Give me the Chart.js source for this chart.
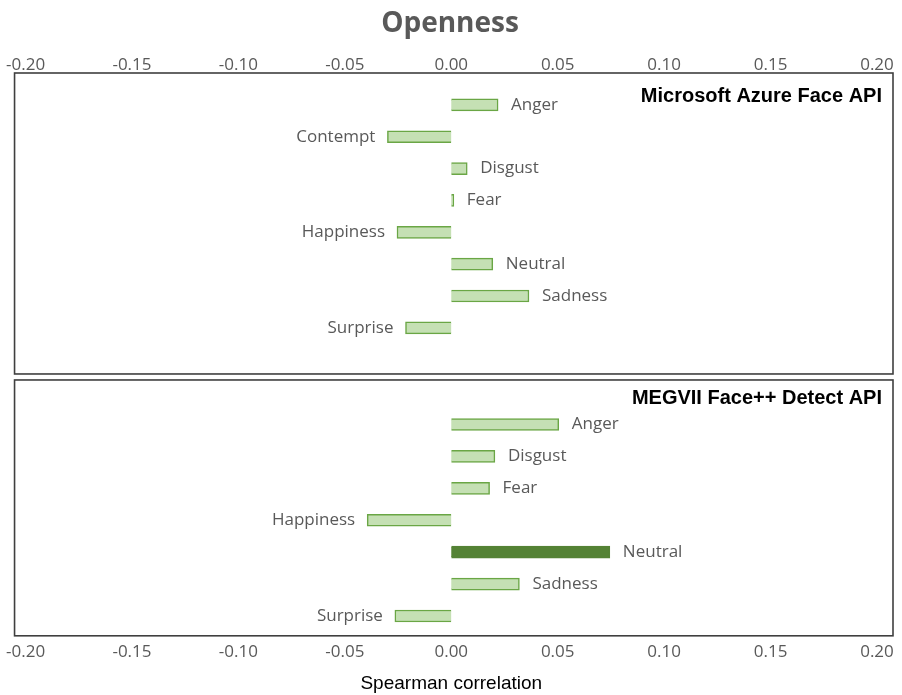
<!DOCTYPE html>
<html>
<head>
<meta charset="utf-8">
<title>Openness</title>
<script src="https://cdn.jsdelivr.net/npm/chart.js@4.4.1/dist/chart.umd.min.js"></script>
<style>
  html, body { margin: 0; padding: 0; background: #fff; }
  #chart { display: block; }
</style>
</head>
<body>
<canvas id="chart" width="902" height="695"></canvas>
<script>
// values
const azureEmotions = ['Anger', 'Contempt', 'Disgust', 'Fear', 'Happiness', 'Neutral', 'Sadness', 'Surprise'];
const azureValues = [0.022, -0.030, 0.0075, 0.0012, -0.0255, 0.0195, 0.0365, -0.0215];
const azureSignificant = [false, false, false, false, false, false, false, false];

const megviiEmotions = ['Anger', 'Disgust', 'Fear', 'Happiness', 'Neutral', 'Sadness', 'Surprise'];
const megviiValues = [0.0505, 0.0205, 0.018, -0.0395, 0.0745, 0.032, -0.0265];
const megviiSignificant = [false, false, false, false, true, false, false];

const panelTitles = ['Microsoft Azure Face API', 'MEGVII Face++ Detect API'];
const xTickValues = [-0.20, -0.15, -0.10, -0.05, 0.00, 0.05, 0.10, 0.15, 0.20];

const lightFill = '#C5E0B4';
const darkFill = '#548235';
const edgeColor = '#6AA645';
const textGray = '#595959';

function toPoints(values) {
  return values.map((v, i) => ({ x: v, y: i }));
}

function setTicks(scale) {
  scale.ticks = xTickValues.map(v => ({ value: v }));
}

const tickFont = { family: 'Open Sans', size: 17 };

// boxes, panel titles and the emotion labels next to each bar
const panelPlugin = {
  id: 'panels',
  beforeDatasetsDraw(chart) {
    const { ctx, chartArea } = chart;
    const axes = [chart.scales.yAzure, chart.scales.yMegvii];
    const left = chartArea.left - 11;
    const right = chartArea.right + 16;
    ctx.save();
    ctx.strokeStyle = '#3f3f3f';
    ctx.lineWidth = 1.6;
    axes.forEach((s, i) => {
      const top = i === 0 ? s.top : s.top + 3;
      const bottom = i === 0 ? s.bottom - 3 : s.bottom;
      ctx.strokeRect(left, top, right - left, bottom - top);
    });
    ctx.restore();
  },
  afterDatasetsDraw(chart) {
    const { ctx, chartArea } = chart;
    const axes = [chart.scales.yAzure, chart.scales.yMegvii];
    ctx.save();
    ctx.textBaseline = 'middle';

    ctx.font = 'bold 20px "Liberation Sans", Arial, sans-serif';
    ctx.fillStyle = '#000';
    ctx.textAlign = 'right';
    axes.forEach((s, i) => {
      const y = i === 0 ? s.top + 23 : s.top + 22;
      ctx.fillText(panelTitles[i], chartArea.right + 5, y);
    });

    ctx.font = '17px "Open Sans", sans-serif';
    ctx.fillStyle = textGray;
    chart.data.datasets.forEach((ds, di) => {
      const meta = chart.getDatasetMeta(di);
      meta.data.forEach((bar, i) => {
        const v = ds.data[i].x;
        if (v >= 0) {
          ctx.textAlign = 'left';
          ctx.fillText(ds.names[i], bar.x + 13, bar.y);
        } else {
          ctx.textAlign = 'right';
          ctx.fillText(ds.names[i], bar.x - 12, bar.y);
        }
      });
    });
    ctx.restore();
  }
};

const ctx = document.getElementById('chart').getContext('2d');

const chart = new Chart(ctx, {
  type: 'bar',
  data: {
    datasets: [{
      label: panelTitles[0],
      names: azureEmotions,
      data: toPoints(azureValues),
      xAxisID: 'x',
      yAxisID: 'yAzure',
      backgroundColor: azureSignificant.map(s => s ? darkFill : lightFill),
      borderColor: edgeColor,
      borderWidth: 1.5,
      barThickness: 12,
      grouped: false
    }, {
      label: panelTitles[1],
      names: megviiEmotions,
      data: toPoints(megviiValues),
      xAxisID: 'x',
      yAxisID: 'yMegvii',
      backgroundColor: megviiSignificant.map(s => s ? darkFill : lightFill),
      borderColor: megviiSignificant.map(s => s ? darkFill : edgeColor),
      borderWidth: 1.5,
      barThickness: 12,
      grouped: false
    }]
  },
  options: {
    indexAxis: 'y',
    responsive: false,
    animation: false,
    devicePixelRatio: 1,
    layout: { padding: { left: 23, right: 25, top: 0, bottom: 0 } },
    plugins: {
      legend: { display: false },
      tooltip: { enabled: false },
      title: {
        display: true,
        text: 'Openness',
        color: textGray,
        font: { family: 'Open Sans', size: 28, weight: 'bold' },
        padding: { top: 7, bottom: 16 }
      }
    },
    scales: {
      x: {
        type: 'linear',
        position: 'bottom',
        min: -0.2,
        max: 0.2,
        afterBuildTicks: setTicks,
        grid: { display: false, drawTicks: false },
        border: { display: false },
        ticks: {
          padding: 6,
          color: textGray,
          font: tickFont,
          maxRotation: 0,
          autoSkip: false,
          callback: v => v.toFixed(2)
        },
        title: {
          display: true,
          text: 'Spearman correlation',
          color: '#000',
          font: { family: 'Liberation Sans', size: 19 },
          padding: { top: 4, bottom: 0 }
        }
      },
      x2: {
        type: 'linear',
        position: 'top',
        min: -0.2,
        max: 0.2,
        afterBuildTicks: setTicks,
        grid: { display: false, drawTicks: false },
        border: { display: false },
        ticks: {
          padding: -2,
          color: textGray,
          font: tickFont,
          maxRotation: 0,
          autoSkip: false,
          callback: v => v.toFixed(2)
        }
      },
      yAzure: {
        type: 'linear',
        position: 'left',
        stack: 'panels',
        stackWeight: 303,
        weight: 2,
        offset: false,
        reverse: true,
        min: -1.0,
        max: 8.54,
        display: false
      },
      yMegvii: {
        type: 'linear',
        position: 'left',
        stack: 'panels',
        stackWeight: 258,
        weight: 1,
        offset: false,
        reverse: true,
        min: -1.49,
        max: 6.62,
        display: false
      }
    }
  },
  plugins: [panelPlugin]
});
</script>
</body>
</html>
